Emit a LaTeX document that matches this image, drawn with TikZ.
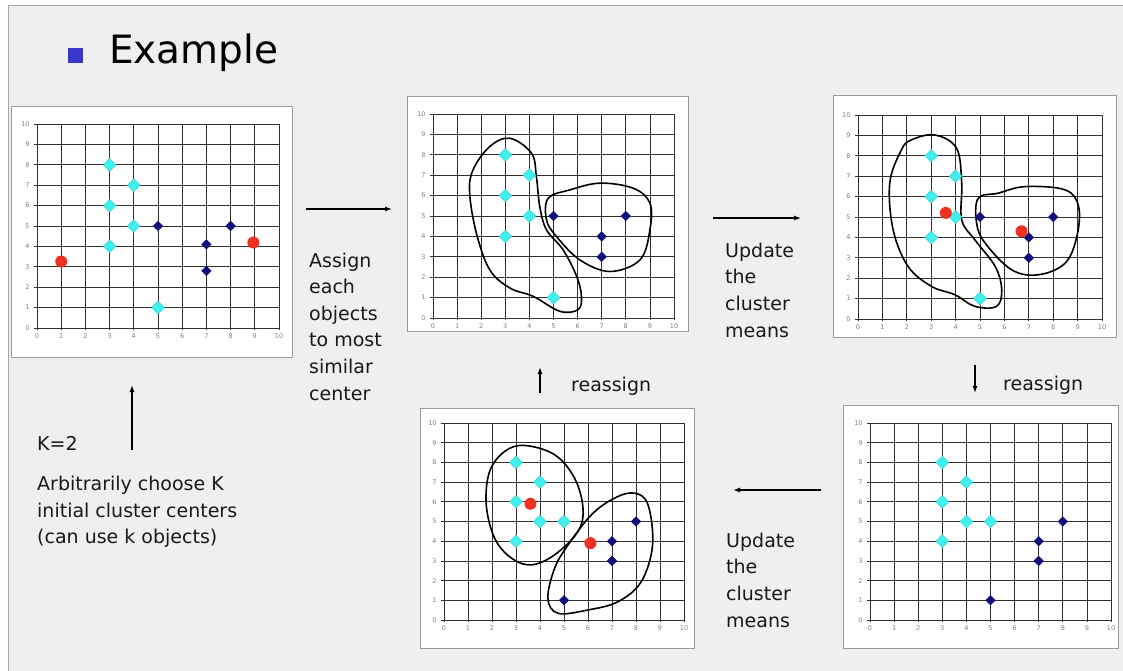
\documentclass[tikz,border=0pt]{standalone}
\usepackage{fontspec}
\setmainfont{DejaVu Sans}
\usetikzlibrary{shapes.geometric,arrows.meta}
\definecolor{bg}{HTML}{EFEFEF}
\definecolor{framec}{HTML}{A8A8A8}
\definecolor{boxc}{HTML}{9A9A9A}
\definecolor{cy}{HTML}{40F0F0}
\definecolor{nv}{HTML}{10107A}
\definecolor{rd}{HTML}{F03020}
\definecolor{bul}{HTML}{3838C8}
\definecolor{gridc}{HTML}{303030}
\definecolor{lbl}{HTML}{808080}
\tikzset{
 panelbox/.style={draw=boxc, fill=white, line width=0.8pt, inner sep=0pt, anchor=north west},
 gridline/.style={draw=gridc, line width=0.75pt},
 axlbl/.style={font=\fontsize{6.5}{8}\selectfont, text=lbl, inner sep=0pt},
 cyd/.style={diamond, fill=cy, draw=cy!80!black, line width=0.3pt, minimum width=13pt, minimum height=13pt, inner sep=0pt},
 nvd/.style={diamond, fill=nv, minimum width=10.5pt, minimum height=10.5pt, inner sep=0pt},
 rdc/.style={circle, fill=rd, minimum size=12pt, inner sep=0pt},
 blob/.style={draw=black, line width=1.6pt},
 flow/.style={line width=1.3pt, -{Latex[length=7pt,width=5pt]}},
 body/.style={font=\fontsize{19}{26}\selectfont, anchor=base west, inner sep=0pt, text=black!90},
}
\newcommand\kgrid[1]{%
 \foreach \i in {0,...,10} {
   \draw[gridline] (\i,-0.12) -- (\i,10);
   \draw[gridline] (-0.12,\i) -- (10,\i);
   \node[axlbl, anchor=east] (#1y\i) at (-0.3,\i) {\i};
   \node[axlbl, anchor=north] (#1x\i) at (\i,-0.28) {\i};
 }}
\begin{document}
\begin{tikzpicture}[x=1pt,y=-1pt]
\useasboundingbox (0,0) rectangle (1123,671);
\fill[white] (0,0) rectangle (1123,671);
\fill[bg] (8,6) rectangle (1123,671);
\draw[framec, line width=1pt] (8,671) -- (8,6) -- (1123,6);

% title
\node[fill=bul, minimum size=15pt, inner sep=0pt, anchor=north west] (bullet) at (68,48) {};
\node[font=\fontsize{39}{46}\selectfont, anchor=base west, inner sep=0pt] (title) at (109,64) {Example};

% panel boxes
\node[panelbox, minimum width=281pt, minimum height=251pt] (P1) at (11,106) {};
\node[panelbox, minimum width=281pt, minimum height=235pt] (P2) at (407,96) {};
\node[panelbox, minimum width=283pt, minimum height=242pt] (P3) at (833,95) {};
\node[panelbox, minimum width=274pt, minimum height=240pt] (P4) at (420,408) {};
\node[panelbox, minimum width=275pt, minimum height=243pt] (P5) at (843,405) {};

% panel 1
\begin{scope}[shift={(37,328)}, x=24.2pt, y=20.4pt]
 \kgrid{g1}
 \foreach \a/\b [count=\n] in {3/8,4/7,3/6,4/5,3/4,5/1} \node[cyd] (p1c\n) at (\a,\b) {};
 \foreach \a/\b [count=\n] in {5/5,7/4.1,7/2.8,8/5} \node[nvd] (p1n\n) at (\a,\b) {};
 \node[rdc] (p1r1) at (1,3.26) {};
 \node[rdc] (p1r2) at (8.94,4.19) {};
\end{scope}

% panel 2
\begin{scope}[shift={(433,318)}, x=24.1pt, y=20.4pt]
 \kgrid{g2}
 \draw[blob] plot[smooth cycle, tension=0.6] coordinates {(3.19,8.81) (4.09,8.07) (4.29,6.93) (4.43,5.46) (4.71,4.32) (5.40,3.34) (5.96,2.04) (6.16,1.06) (6.02,0.41) (5.26,0.33) (4.16,1.06) (3.19,1.47) (2.35,2.37) (1.80,4.16) (1.52,6.12) (1.66,7.26) (2.35,8.40)};
 \draw[blob] plot[smooth cycle, tension=0.6] coordinates {(4.78,5.87) (5.68,6.28) (6.93,6.61) (8.31,6.36) (9.0,5.63) (9.0,4.32) (8.59,2.85) (7.34,2.28) (6.09,2.85) (5.12,4.0) (4.71,4.81)};
 \foreach \a/\b [count=\n] in {3/8,4/7,3/6,4/5,3/4,5/1} \node[cyd] (p2c\n) at (\a,\b) {};
 \foreach \a/\b [count=\n] in {5/5,7/4,7/3,8/5} \node[nvd] (p2n\n) at (\a,\b) {};
\end{scope}

% panel 3
\begin{scope}[shift={(858,319)}, x=24.4pt, y=20.4pt]
 \kgrid{g3}
 \draw[blob] plot[smooth cycle, tension=0.6] coordinates {(3.15,9.02) (4.04,8.37) (4.25,6.66) (4.25,4.86) (4.79,3.88) (5.62,2.58) (5.89,1.44) (5.68,0.62) (4.79,0.62) (3.97,1.19) (3.01,1.6) (2.05,2.58) (1.44,4.37) (1.30,6.66) (1.78,8.29) (2.19,8.78)};
 \draw[blob] plot[smooth cycle, tension=0.6] coordinates {(4.93,5.92) (5.75,6.17) (6.85,6.49) (8.49,6.33) (9.04,5.51) (8.97,4.05) (8.49,2.74) (7.40,2.17) (6.30,2.41) (5.21,3.72) (4.86,4.70)};
 \foreach \a/\b [count=\n] in {3/8,4/7,3/6,4/5,3/4,5/1} \node[cyd] (p3c\n) at (\a,\b) {};
 \foreach \a/\b [count=\n] in {5/5,7/4,7/3,8/5} \node[nvd] (p3n\n) at (\a,\b) {};
 \node[rdc] (p3r1) at (3.6,5.2) {};
 \node[rdc] (p3r2) at (6.7,4.3) {};
\end{scope}

% panel 4
\begin{scope}[shift={(444,620)}, x=24pt, y=19.7pt]
 \kgrid{g4}
 \draw[blob] plot[smooth cycle, tension=0.6] coordinates {(3.36,8.86) (4.61,8.39) (5.44,7.2) (5.79,5.68) (5.58,4.49) (4.61,3.31) (3.64,2.80) (2.81,3.14) (2.11,4.15) (1.76,5.85) (1.90,7.54) (2.53,8.56)};
 \draw[blob] plot[smooth cycle, tension=0.6] coordinates {(6.14,5.34) (7.11,6.19) (7.94,6.44) (8.50,5.85) (8.69,3.81) (8.22,1.95) (7.25,0.93) (6.0,0.51) (4.75,0.34) (4.33,1.10) (4.61,2.63) (5.17,3.81)};
 \foreach \a/\b [count=\n] in {3/8,4/7,3/6,4/5,5/5,3/4} \node[cyd] (p4c\n) at (\a,\b) {};
 \foreach \a/\b [count=\n] in {8/5,7/4,7/3,5/1} \node[nvd] (p4n\n) at (\a,\b) {};
 \node[rdc] (p4r1) at (3.6,5.9) {};
 \node[rdc] (p4r2) at (6.1,3.9) {};
\end{scope}

% panel 5
\begin{scope}[shift={(870,620)}, x=24.1pt, y=19.7pt]
 \kgrid{g5}
 \foreach \a/\b [count=\n] in {3/8,4/7,3/6,4/5,5/5,3/4} \node[cyd] (p5c\n) at (\a,\b) {};
 \foreach \a/\b [count=\n] in {8/5,7/4,7/3,5/1} \node[nvd] (p5n\n) at (\a,\b) {};
\end{scope}

% arrows
\coordinate (a1s) at (306,209); \coordinate (a1e) at (392,209);
\coordinate (a2s) at (713,218); \coordinate (a2e) at (801,218);
\coordinate (a3s) at (975,365); \coordinate (a3e) at (975,393);
\coordinate (a4s) at (821,490); \coordinate (a4e) at (733,490);
\coordinate (a5s) at (540,393); \coordinate (a5e) at (540,367);
\coordinate (a6s) at (132,450); \coordinate (a6e) at (132,385);
\draw[flow] (a1s) -- (a1e);
\draw[flow] (a2s) -- (a2e);
\draw[flow] (a3s) -- (a3e);
\draw[flow] (a4s) -- (a4e);
\draw[flow] (a5s) -- (a5e);
\draw[flow] (a6s) -- (a6e);

% texts
\node[body] (k2) at (37,450) {K=2};
\node[body] (ar1) at (37,490) {Arbitrarily choose K};
\node[body] (ar2) at (37,517) {initial cluster centers};
\node[body] (ar3) at (37,543) {(can use k objects)};

\node[body] (as1) at (309,267) {Assign};
\node[body] (as2) at (309,293.5) {each};
\node[body] (as3) at (309,320) {objects};
\node[body] (as4) at (309,346.5) {to most};
\node[body] (as5) at (309,373) {similar};
\node[body] (as6) at (309,400) {center};

\node[body] (ut1) at (725,257) {Update};
\node[body] (ut2) at (725,283.5) {the};
\node[body] (ut3) at (725,310) {cluster};
\node[body] (ut4) at (725,337) {means};

\node[body] (ub1) at (726,547) {Update};
\node[body] (ub2) at (726,573.5) {the};
\node[body] (ub3) at (726,600) {cluster};
\node[body] (ub4) at (726,627) {means};

\node[body] (re1) at (1003,390) {reassign};
\node[body] (re2) at (571,391) {reassign};
\end{tikzpicture}
\end{document}
